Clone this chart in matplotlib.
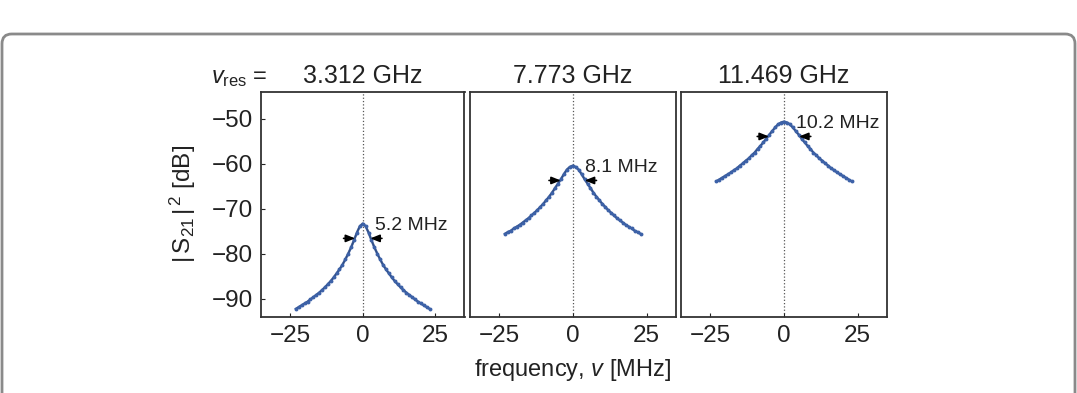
import numpy as np
import matplotlib
matplotlib.use("Agg")
import matplotlib.pyplot as plt
from matplotlib.patches import FancyBboxPatch

plt.rcParams['font.family'] = ['Liberation Sans', 'DejaVu Sans']
plt.rcParams['mathtext.fontset'] = 'custom'
plt.rcParams['mathtext.rm'] = 'Liberation Sans'
plt.rcParams['mathtext.it'] = 'Liberation Sans:italic'

# detuning from resonance [MHz]
freq = list(range(-23, 24))

# |S21|^2 [dB] (symmetric around 0)
s21_3312 = [-92.3, -91.9, -91.5, -91.1, -90.7, -90.2, -89.7, -89.2, -88.7, -88.1,
            -87.5, -86.8, -86.1, -85.3, -84.4, -83.5, -82.5, -81.3, -80.0, -78.6,
            -77.0, -75.3, -73.9, -73.3, -73.9, -75.3, -77.0, -78.6, -80.0, -81.3,
            -82.5, -83.5, -84.4, -85.3, -86.1, -86.8, -87.5, -88.1, -88.7, -89.2,
            -89.7, -90.2, -90.7, -91.1, -91.5, -91.9, -92.3]
s21_7773 = [-75.6, -75.2, -74.9, -74.4, -74.0, -73.6, -73.1, -72.6, -72.1, -71.5,
            -70.9, -70.3, -69.6, -68.9, -68.1, -67.3, -66.4, -65.4, -64.4, -63.4,
            -62.3, -61.3, -60.7, -60.4, -60.7, -61.3, -62.3, -63.4, -64.4, -65.4,
            -66.4, -67.3, -68.1, -68.9, -69.6, -70.3, -70.9, -71.5, -72.1, -72.6,
            -73.1, -73.6, -74.0, -74.4, -74.9, -75.2, -75.6]
s21_11469 = [-63.9, -63.5, -63.1, -62.7, -62.3, -61.9, -61.4, -61.0, -60.4, -59.9,
             -59.3, -58.8, -58.1, -57.5, -56.7, -56.0, -55.2, -54.4, -53.5, -52.7,
             -51.9, -51.2, -50.8, -50.6, -50.8, -51.2, -51.9, -52.7, -53.5, -54.4,
             -55.2, -56.0, -56.7, -57.5, -58.1, -58.8, -59.3, -59.9, -60.4, -61.0,
             -61.4, -61.9, -62.3, -62.7, -63.1, -63.5, -63.9]

titles = ['3.312 GHz', '7.773 GHz', '11.469 GHz']
widths = [5.2, 8.1, 10.2]          # FWHM [MHz]
peaks = [-73.3, -60.4, -50.6]      # peak level [dB]
curves = [s21_3312, s21_7773, s21_11469]

W, H = 1077, 393
fig = plt.figure(figsize=(W / 100, H / 100), dpi=100)

# rounded frame around the figure
frame = FancyBboxPatch((2 / W, -0.2), 1073 / W, 1.2 - 34 / H,
                       boxstyle="round,pad=0,rounding_size=0.009",
                       transform=fig.transFigure, fill=False,
                       edgecolor='#8a8a8a', linewidth=2, mutation_aspect=W / H)
fig.patches.append(frame)

lefts = [261, 469.5, 681]
pw = [203.5, 206.5, 206]
bottom = 1 - 316.5 / H
ph = 224.5 / H

blue = '#3d62a8'
for i in range(3):
    ax = fig.add_axes([lefts[i] / W, bottom, pw[i] / W, ph])
    ax.plot(freq, curves[i], color='black', lw=1.2, zorder=2)
    ax.plot(freq, curves[i], 'o', color=blue, ms=2.8, mew=0, zorder=3)
    ax.plot(freq, curves[i], color=blue, lw=1.8, alpha=0.8, zorder=3)
    ax.axvline(0, color='#555555', lw=0.9, ls=':', zorder=1)

    half = widths[i] / 2
    ylev = peaks[i] - 3.3
    for sgn in (-1, 1):
        ax.annotate('', xy=(sgn * half, ylev), xytext=(sgn * (half + 4.0), ylev),
                    arrowprops=dict(arrowstyle='-|>,head_length=0.55,head_width=0.22',
                                    color='black', lw=1.2, shrinkA=0, shrinkB=0),
                    zorder=4)
    ax.text(4.2, peaks[i] - 0.4, '%.1f MHz' % widths[i], fontsize=14,
            ha='left', va='center', color='#222222')

    ax.set_xlim(-35, 35)
    ax.set_ylim(-94, -44)
    ax.set_xticks([-25, 0, 25])
    ax.set_xticklabels(['\u221225', '0', '25'])
    ax.tick_params(axis='both', direction='in', length=3, width=0.8,
                   labelsize=17.5, colors='#222222', pad=6)
    if i == 0:
        ax.set_yticks([-90, -80, -70, -60, -50])
        ax.set_yticklabels(['\u221290', '\u221280', '\u221270', '\u221260', '\u221250'])
    else:
        ax.set_yticks([])
    for sp in ax.spines.values():
        sp.set_color('#333333')
        sp.set_linewidth(1.3)
    ax.text(0.5, 1.04, titles[i], transform=ax.transAxes, ha='center',
            va='baseline', fontsize=18, color='#222222')

fig.text(268 / W, 1 - 83 / H, '$v_\\mathrm{res}$ =', ha='right', va='baseline',
         fontsize=17, color='#222222')
fig.text(183 / W, 0.48, '$|\\,\\mathrm{S}_{21}\\,|^{\\,2}$ [dB]', rotation=90,
         ha='center', va='center', fontsize=17.5, color='#222222')
fig.text(573 / W, 1 - 370 / H, 'frequency, $v$ [MHz]', ha='center', va='center',
         fontsize=17, color='#222222')

fig.savefig('out.png', dpi=100)
